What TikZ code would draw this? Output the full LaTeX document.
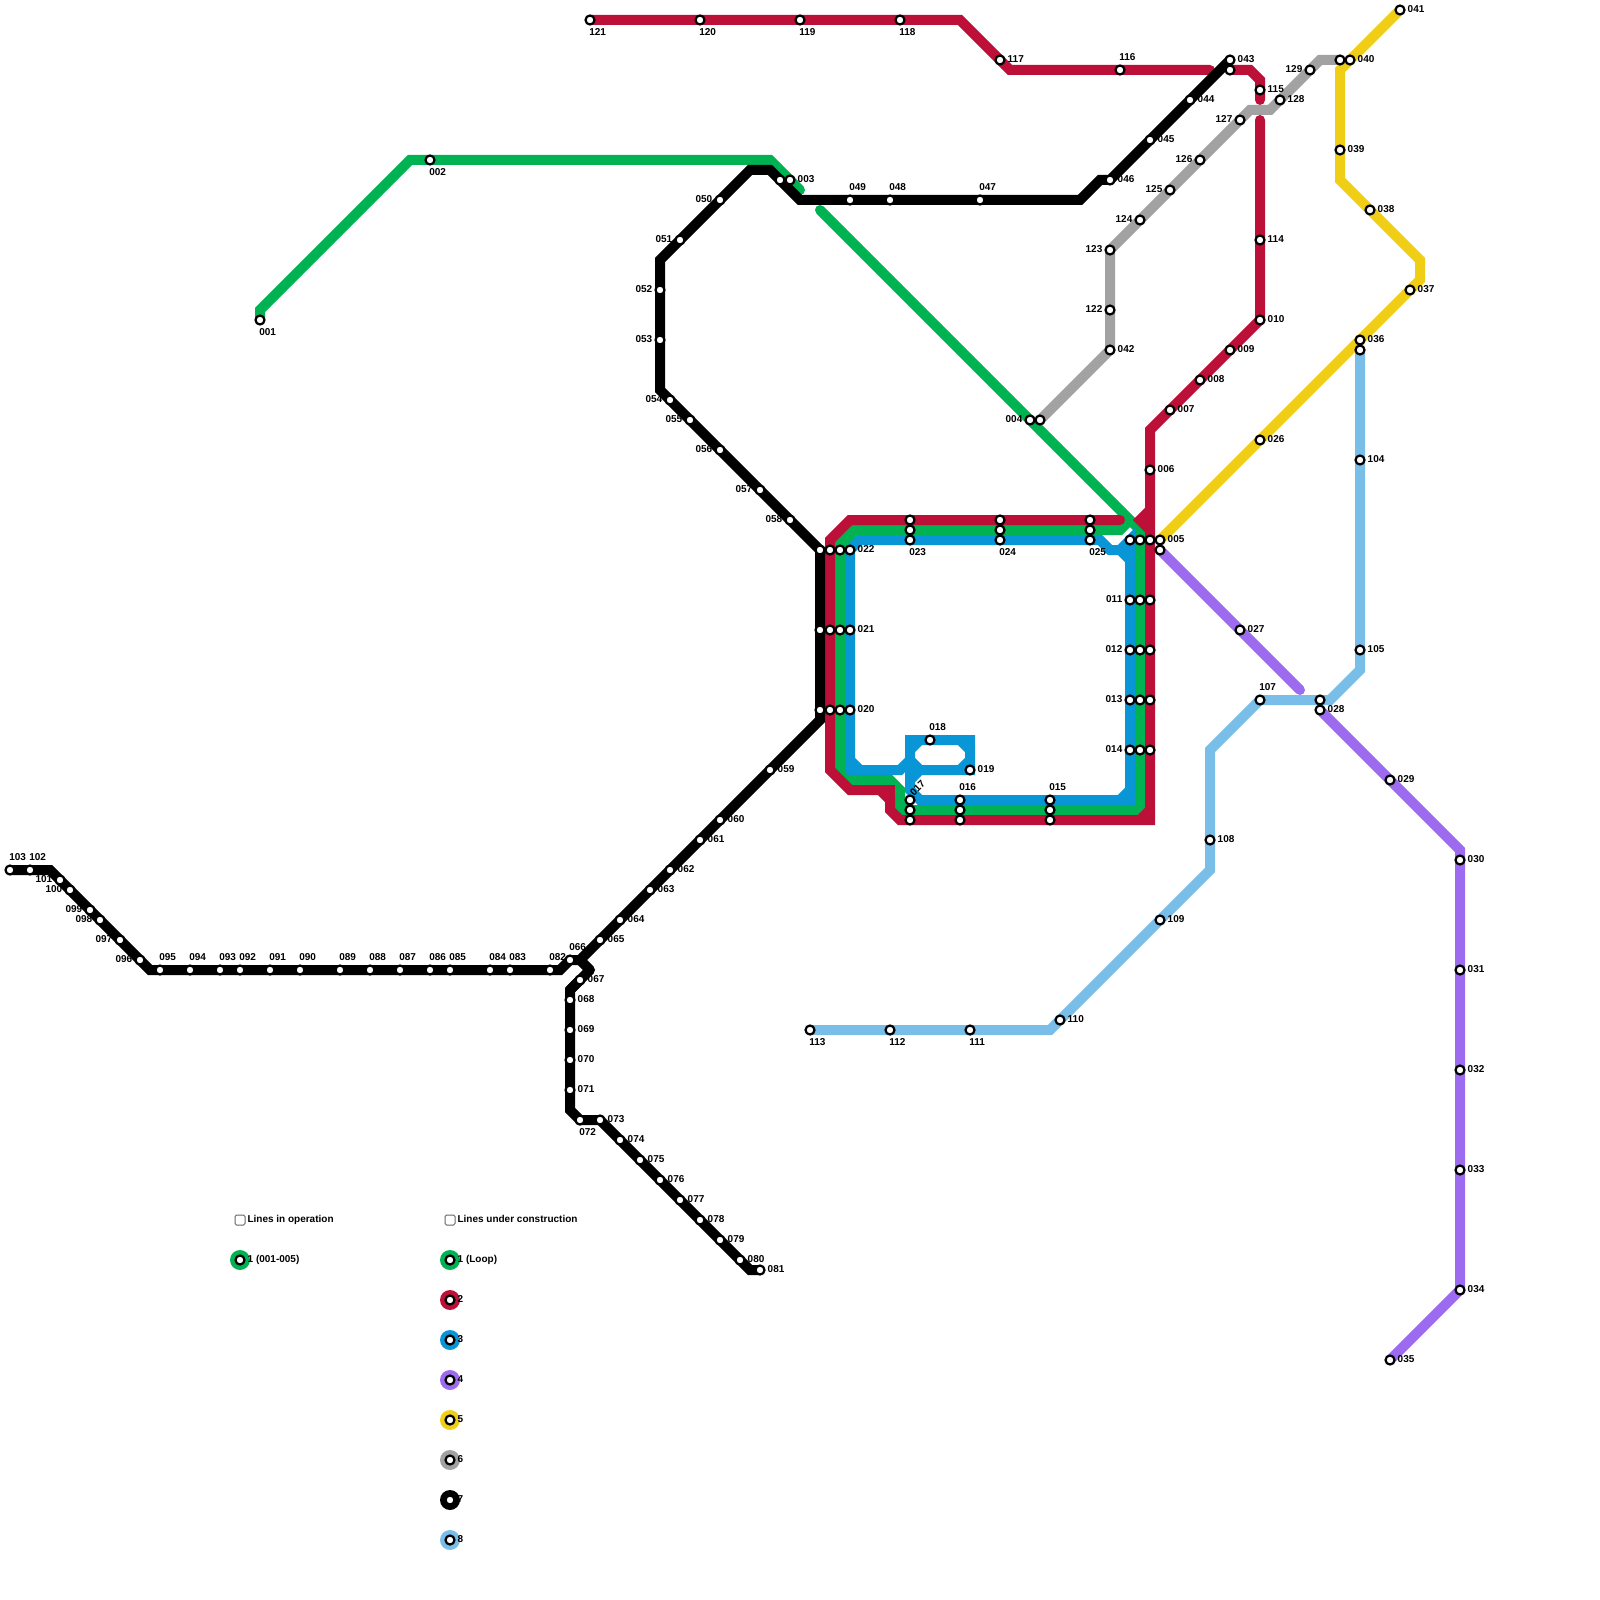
\documentclass[tikz,border=0pt]{standalone}
\usepackage{fontspec}
\setmainfont{Liberation Sans}
\definecolor{lone}{HTML}{00B251}
\definecolor{ltwo}{HTML}{BD1038}
\definecolor{lthree}{HTML}{0896D7}
\definecolor{lfour}{HTML}{9D6BF0}
\definecolor{lfive}{HTML}{F0CE15}
\definecolor{lsix}{HTML}{A2A2A2}
\definecolor{leight}{HTML}{79BDE9}
\tikzset{
	every node/.style={font=\fontsize{2.845pt}{3pt}\selectfont\bfseries,inner sep=0,outer sep=0},
	track/.style={line width=1mm,line cap=round,line join=miter,miter limit=4},
	station/.style={circle,draw=black,fill=white,line width=.22mm,minimum size=.9mm},
	labr/.style={anchor=base west,xshift=.77mm,yshift=-.23mm},
	labl/.style={anchor=base east,xshift=-.77mm,yshift=-.23mm},
	labt/.style={anchor=base west,xshift=-.07mm,yshift=.95mm},
	labb/.style={anchor=base west,xshift=-.07mm,yshift=-1.55mm},
	legdot/.style={circle,minimum size=2mm},
	legbox/.style={draw=black!60,fill=white,line width=.1mm,rounded corners=.15mm,minimum size=1mm}
}
\begin{document}
\begin{tikzpicture}[x=1mm,y=-1mm]
	\useasboundingbox (0,0) rectangle (160,160);
	% named stops, with the side of their number
	\def\stops{001/26/32/b,002/43/16/b,003/79/18/r,004/103/42/l,005/116/54/r,006/115/47/r,007/117/41/r,008/120/38/r,009/123/35/r,010/126/32/r,
		011/113/60/l,012/113/65/l,013/113/70/l,014/113/75/l,015/105/80/t,016/96/80/t,018/93/74/t,019/97/77/r,020/85/71/r,021/85/63/r,022/85/55/r,
		023/91/54/b,024/100/54/b,025/109/54/b,026/126/44/r,027/124/63/r,028/132/71/r,029/139/78/r,030/146/86/r,031/146/97/r,032/146/107/r,033/146/117/r,
		034/146/129/r,035/139/136/r,036/136/34/r,037/141/29/r,038/137/21/r,039/134/15/r,040/135/6/r,041/140/1/r,042/111/35/r,043/123/6/r,044/119/10/r,
		045/115/14/r,046/111/18/r,047/98/20/t,048/89/20/t,049/85/20/t,050/72/20/l,051/68/24/l,052/66/29/l,053/66/34/l,054/67/40/l,055/69/42/l,056/72/45/l,
		057/76/49/l,058/79/52/l,059/77/77/r,060/72/82/r,061/70/84/r,062/67/87/r,063/65/89/r,064/62/92/r,065/60/94/r,066/57/96/t,067/58/98/r,068/57/100/r,
		069/57/103/r,070/57/106/r,071/57/109/r,072/58/112/b,073/60/112/r,074/62/114/r,075/64/116/r,076/66/118/r,077/68/120/r,078/70/122/r,079/72/124/r,
		080/74/126/r,081/76/127/r,082/55/97/t,083/51/97/t,084/49/97/t,085/45/97/t,086/43/97/t,087/40/97/t,088/37/97/t,089/34/97/t,090/30/97/t,091/27/97/t,
		092/24/97/t,093/22/97/t,094/19/97/t,095/16/97/t,096/14/96/l,097/12/94/l,098/10/92/l,099/9/91/l,100/7/89/l,101/6/88/l,102/3/87/t,103/1/87/t,
		104/136/46/r,105/136/65/r,107/126/70/t,108/121/84/r,109/116/92/r,110/106/102/r,111/97/103/b,112/89/103/b,113/81/103/b,114/126/24/r,115/126/9/r,
		116/112/7/t,117/100/6/r,118/90/2/b,119/80/2/b,120/70/2/b,121/59/2/b,122/111/31/l,123/111/25/l,124/114/22/l,125/117/19/l,126/120/16/l,127/124/12/l,
		128/128/10/r,129/131/7/l}
	% stops with no number beside them
	\def\plain{a1/78/18,a2/104/42,a3/116/55,a4/136/35,a5/134/6,a6/123/7,a7/132/70,a8/91/80,
		b1/82/55,b2/83/55,b3/84/55,b4/82/63,b5/83/63,b6/84/63,b7/82/71,b8/83/71,b9/84/71,
		c1/91/52,c2/91/53,c3/100/52,c4/100/53,c5/109/52,c6/109/53,
		d1/113/54,d2/114/54,d3/115/54,d4/114/60,d5/115/60,d6/114/65,d7/115/65,d8/114/70,d9/115/70,d10/114/75,d11/115/75,
		e1/91/81,e2/91/82,e3/96/81,e4/96/82,e5/105/81,e6/105/82}
	\foreach \n/\x/\y/\s in \stops \coordinate (s\n) at (\x,\y);
	\foreach \n/\x/\y in \plain \coordinate (s\n) at (\x,\y);
	% line 1
	\draw[track,lone] (s001)--(26,31)--(41,16)--(77,16)--(80,19);
	\draw[track,lone] (82,21)--(113,52)--(114,53)--(114,80)--(113,81)--(91,81)--(90,80)--(90,79)--(89,78)--(86,78)--(84,76)--(84,55)--(86,53)--(112,53)--(113,52);
	\draw[track,lone] (84,76)--(84,77)--(85,78)--(86,78) (84,55)--(84,54)--(85,53)--(86,53) (90,80)--(90,81)--(91,81) (114,80)--(114,81)--(113,81);
	% line 2
	\draw[track,ltwo] (s121)--(96,2)--(101,7)--(121,7);
	\draw[track,ltwo] (sa6)--(125,7)--(126,8)--(126,10);
	\draw[track,ltwo] (126,12)--(s010)--(115,43)--(115,82)--(90,82)--(89,81)--(89,80)--(88,79)--(85,79)--(83,77)--(83,54)--(85,52)--(112,52);
	\draw[track,ltwo] (115,51)--(114,52)--(115,53);
	\draw[track,ltwo] (115,81)--(114,82);
	\draw[track,ltwo] (88,79)--(89,79)--(89,80);
	% line 3
	\draw[track,lthree] (85,77)--(s022)--(86,54)--(110,54)--(111,55)--(112,55)--(113,56)--(113,79)--(112,80)--(92,80)--(91,79)--(91,74)--(97,74)--(97,77)--(92,77)--(91,78);
	\draw[track,lthree] (85,76)--(86,77)--(90,77)--(91,76);
	\draw[track,lthree] (85,77)--(90,77);
	\draw[track,lthree] (112,55)--(113,54)--(113,56);
	\draw[track,lthree] (113,79)--(113,80)--(112,80);
	\draw[track,lthree] (91,75)--(92,74) (96,74)--(97,75) (97,76)--(96,77) (92,77)--(91,76);
	% line 4
	\draw[track,lfour] (sa3)--(130,69);
	\draw[track,lfour] (s028)--(146,85)--(s034)--(s035);
	% line 5
	\draw[track,lfive] (s005)--(142,28)--(142,26)--(134,18)--(134,7)--(s041);
	% line 6
	\draw[track,lsix] (sa2)--(s042)--(s123)--(125,11)--(127,11)--(132,6)--(sa5);
	% line 7
	\draw[track,black] (s103)--(5,87)--(15,97)--(56,97)--(57,96)--(58,96);
	\draw[track,black,line join=round] (58,96)--(59,97)--(57,99);
	\draw[track,black] (s081)--(75,127)--(s073)--(s072)--(57,111)--(57,99)--(58,98);
	\draw[track,black] (58,96)--(82,72)--(82,55)--(66,39)--(66,26)--(75,17)--(77,17)--(80,20)--(108,20)--(110,18)--(s046)--(s043);
	% line 8
	\draw[track,leight] (sa4)--(136,67)--(133,70)--(s107)--(121,75)--(121,87)--(105,103)--(s113);
	% stops and their numbers
	\foreach \n/\x/\y in \plain \node[station] (n\n) at (s\n) {};
	\foreach \n/\x/\y/\s in \stops {
		\node[station] (n\n) at (s\n) {};
		\node[lab\s] (t\n) at (s\n) {\n};
	}
	\node[anchor=base west,rotate=45] (t017) at (91.4,79.6) {017};
	% key
	\node[legbox] (boxa) at (24,122) {};
	\node[anchor=base west] (heada) at (24.75,122.2) {Lines in operation};
	\node[legbox] (boxb) at (45,122) {};
	\node[anchor=base west] (headb) at (45.75,122.2) {Lines under construction};
	\node[legdot,fill=lone] (keya) at (24,126) {};
	\node[station] at (keya) {};
	\node[labr] (keyat) at (keya) {1 (001-005)};
	\foreach \k/\y/\c/\t in {b/126/lone/1 (Loop),c/130/ltwo/2,d/134/lthree/3,e/138/lfour/4,f/142/lfive/5,g/146/lsix/6,h/150/black/7,i/154/leight/8}{
		\node[legdot,fill=\c] (key\k) at (45,\y) {};
		\node[station] at (key\k) {};
		\node[labr] (key\k t) at (key\k) {\t};
	}
\end{tikzpicture}
\end{document}
